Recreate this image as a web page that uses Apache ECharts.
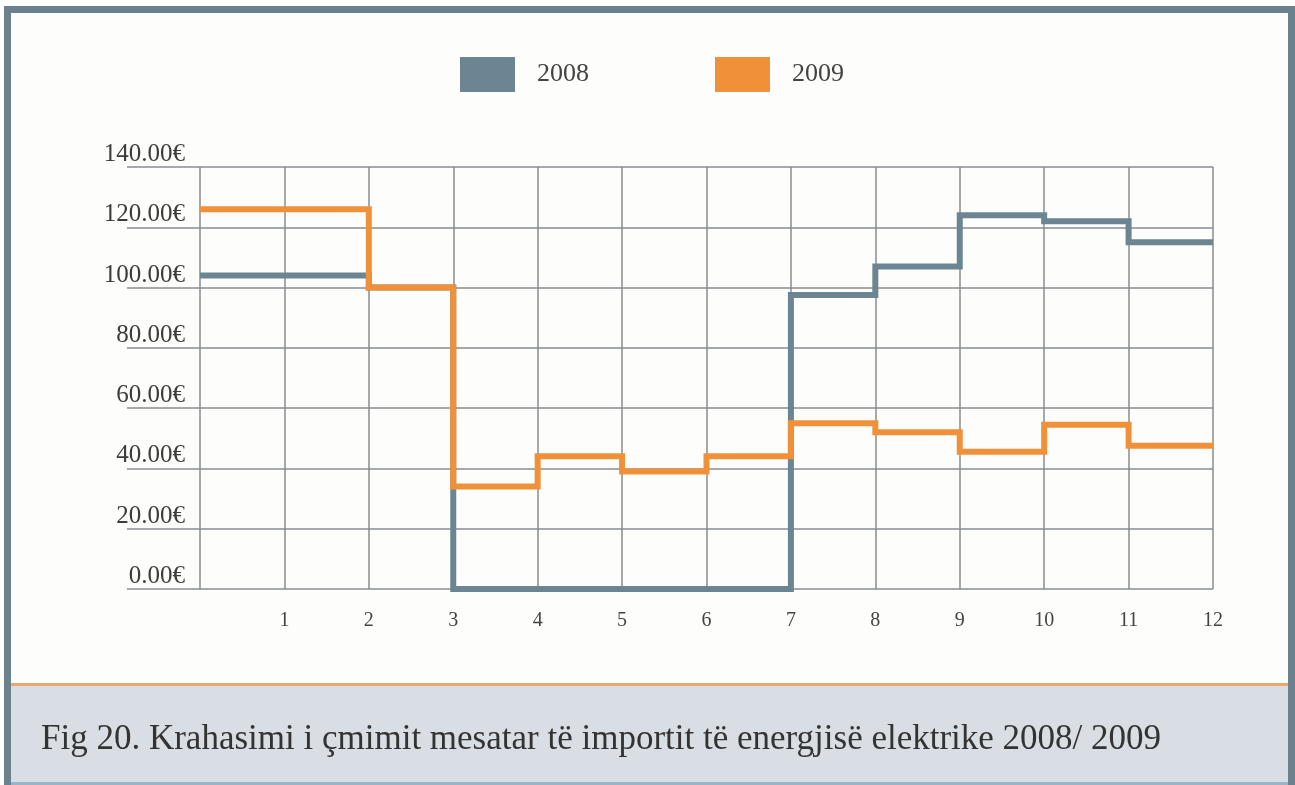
<!DOCTYPE html>
<html>
<head>
<meta charset="utf-8">
<script src="https://cdn.jsdelivr.net/npm/echarts@6/dist/echarts.min.js"></script>
<style>
  html, body { margin: 0; padding: 0; background: #ffffff; }
  #wrap { position: relative; width: 1295px; height: 785px; overflow: hidden; }
  .blk { position: absolute; }
  #chart { position: absolute; left: 0; top: 0; width: 1295px; height: 785px; }
</style>
</head>
<body>
<div id="wrap">
  <!-- frame and panels -->
  <div class="blk" style="left:4px;top:6px;width:1291px;height:779px;background:#6b818e;"></div>
  <div class="blk" style="left:11px;top:13px;width:1277px;height:671px;background:#fdfdfb;"></div>
  <div class="blk" style="left:11px;top:683px;width:1277px;height:3px;background:#eba670;"></div>
  <div class="blk" style="left:11px;top:686px;width:1277px;height:96px;background:#d9dee4;"></div>
  <div class="blk" style="left:11px;top:782px;width:1277px;height:3px;background:#9db4c6;"></div>
  <div id="chart"></div>
</div>
<script>
// months on x axis, values are average import price (€) per month
const months = [1, 2, 3, 4, 5, 6, 7, 8, 9, 10, 11, 12];
const price2008 = [104, 104, 100, 0, 0, 0, 0, 97.5, 107, 124, 122, 115];
const price2009 = [126, 126, 100, 34, 44, 39, 44, 55, 52, 45.5, 54.5, 47.5];
const yTicks = [0, 20, 40, 60, 80, 100, 120, 140];
const caption = 'Fig 20. Krahasimi i çmimit mesatar të importit të energjisë elektrike 2008/ 2009';

const serif = '"Liberation Serif", "DejaVu Serif", serif';
const gridColor = '#878c91';

// each month is drawn as a flat step from (month-1) to month
function steps(values) {
  let pts = months.map((m, i) => [m - 1, values[i]]);
  pts.push([months[months.length - 1], values[values.length - 1]]);
  return pts;
}

let chart = echarts.init(document.getElementById('chart'), null, { renderer: 'canvas' });

let option = {
  backgroundColor: 'transparent',
  animation: false,
  title: {
    text: caption,
    left: 36,
    top: 717,
    textStyle: {
      fontFamily: serif,
      fontSize: 35,
      fontWeight: 'normal',
      color: '#333333'
    }
  },
  legend: {
    data: ['2008', '2009'],
    icon: 'rect',
    left: 455,
    top: 52,
    itemWidth: 55,
    itemHeight: 35,
    itemGap: 126,
    textStyle: {
      fontFamily: serif,
      fontSize: 26,
      color: '#444444',
      padding: [0, 0, 0, 17]
    }
  },
  grid: [
    { left: 200, right: 82, top: 167, bottom: 196 },
    // wider grid only for the horizontal lines that run under the labels
    { left: 127, right: 82, top: 167, bottom: 196 }
  ],
  xAxis: [
    {
      type: 'value',
      gridIndex: 0,
      min: 0,
      max: 12,
      interval: 1,
      axisLine: { show: false },
      axisTick: { show: false },
      axisLabel: {
        margin: 22,
        fontFamily: serif,
        fontSize: 20,
        color: '#444444',
        formatter: v => (v === 0 ? '' : String(v))
      },
      splitLine: { show: true, lineStyle: { color: gridColor, width: 1.5 } }
    },
    { type: 'value', gridIndex: 1, min: 0, max: 1, show: false }
  ],
  yAxis: [
    {
      type: 'value',
      gridIndex: 0,
      min: yTicks[0],
      max: yTicks[yTicks.length - 1],
      interval: 20,
      axisLine: { show: false },
      axisTick: { show: false },
      splitLine: { show: false },
      axisLabel: {
        margin: 15,
        fontFamily: serif,
        fontSize: 25,
        color: '#3c3c3c',
        verticalAlign: 'bottom',
        padding: [0, 0, 0, 0],
        formatter: v => v.toFixed(2) + '€'
      }
    },
    {
      type: 'value',
      gridIndex: 1,
      min: yTicks[0],
      max: yTicks[yTicks.length - 1],
      interval: 20,
      axisLine: { show: false },
      axisTick: { show: false },
      axisLabel: { show: false },
      splitLine: { show: true, lineStyle: { color: gridColor, width: 1.5 } }
    }
  ],
  series: [
    {
      name: '2008',
      type: 'line',
      step: 'end',
      xAxisIndex: 0,
      yAxisIndex: 0,
      symbol: 'none',
      z: 3,
      color: '#6b8593',
      lineStyle: { width: 6, color: '#6b8593', join: 'miter' },
      data: steps(price2008)
    },
    {
      name: '2009',
      type: 'line',
      step: 'end',
      xAxisIndex: 0,
      yAxisIndex: 0,
      symbol: 'none',
      z: 4,
      color: '#f0913a',
      lineStyle: { width: 6, color: '#f0913a', join: 'miter' },
      data: steps(price2009)
    }
  ]
};

chart.setOption(option);
</script>
</body>
</html>
